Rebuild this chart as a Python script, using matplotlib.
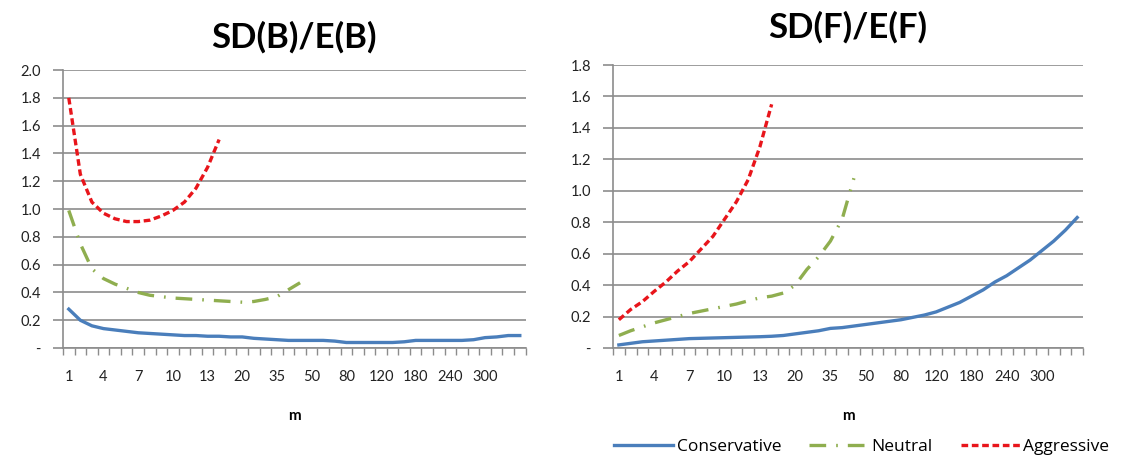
import numpy as np
import matplotlib
matplotlib.use("Agg")
import matplotlib.pyplot as plt
from matplotlib.ticker import FuncFormatter

plt.rcParams['font.family'] = ['Lato', 'DejaVu Sans']

# holding periods m (category axis)
m = list(range(1, 16)) + [20, 25, 30, 35, 40, 45, 50, 60, 70, 80, 90, 100,
                          120, 140, 160, 180, 200, 220, 240, 260, 280, 300,
                          320, 340, 360]

# SD(B)/E(B)
b_cons = [0.28, 0.20, 0.16, 0.14, 0.13, 0.12, 0.11, 0.105, 0.10, 0.095,
          0.09, 0.09, 0.085, 0.085, 0.08, 0.08, 0.07, 0.065, 0.06, 0.055,
          0.055, 0.055, 0.055, 0.05, 0.04, 0.04, 0.04, 0.04, 0.04, 0.045,
          0.055, 0.055, 0.055, 0.055, 0.055, 0.06, 0.075, 0.08, 0.09, 0.09]
b_neut = [0.99, 0.75, 0.57, 0.50, 0.46, 0.43, 0.40, 0.38, 0.37, 0.36,
          0.355, 0.35, 0.345, 0.34, 0.335, 0.33, 0.335, 0.35, 0.37, 0.42,
          0.47]
b_aggr = [1.80, 1.25, 1.05, 0.97, 0.93, 0.91, 0.91, 0.92, 0.95, 0.99,
          1.05, 1.15, 1.30, 1.50]

# SD(F)/E(F)
f_cons = [0.02, 0.03, 0.04, 0.045, 0.05, 0.055, 0.06, 0.062, 0.064, 0.066,
          0.068, 0.07, 0.072, 0.075, 0.08, 0.09, 0.10, 0.11, 0.125, 0.13,
          0.14, 0.15, 0.16, 0.17, 0.18, 0.195, 0.21, 0.23, 0.26, 0.29,
          0.33, 0.37, 0.42, 0.46, 0.51, 0.56, 0.62, 0.68, 0.75, 0.83]
f_neut = [0.08, 0.11, 0.135, 0.16, 0.18, 0.20, 0.22, 0.235, 0.25, 0.265,
          0.28, 0.30, 0.32, 0.33, 0.35, 0.40, 0.50, 0.58, 0.68, 0.82, 1.08]
f_aggr = [0.18, 0.245, 0.295, 0.36, 0.42, 0.49, 0.55, 0.63, 0.71, 0.82,
          0.93, 1.07, 1.28, 1.55]

names = ['Conservative', 'Neutral', 'Aggressive']
blue = '#4a7ebb'
green = '#8fae4f'
red = '#e8151b'
styles = [dict(color=blue, lw=2.4, ls='-'),
          dict(color=green, lw=2.4, ls=(0, (5, 3, 0.5, 3))),
          dict(color=red, lw=2.4, ls=(0, (2.0, 1.1)))]

fig = plt.figure(figsize=(11.31, 4.61), dpi=100)
ax1 = fig.add_axes([0.0557, 0.245, 0.409, 0.603])
ax2 = fig.add_axes([0.542, 0.245, 0.4156, 0.614])


def fmt(v, pos):
    if abs(v) < 1e-9:
        return '-'
    return '%.1f' % v


def setup(ax, title, ymax, series, tpad):
    for s, st, nm in zip(series, styles, names):
        ax.plot(np.arange(len(s)), s, label=nm, **st)
    ax.set_xlim(-0.5, len(m) - 0.5)
    ax.set_ylim(0, ymax)
    ax.set_yticks(np.arange(0, ymax + 0.01, 0.2))
    ax.yaxis.set_major_formatter(FuncFormatter(fmt))
    ax.grid(axis='y', color='#8c8c8c', lw=1.2)
    ax.set_axisbelow(True)
    idx = list(range(0, 37, 3))
    ax.set_xticks(idx)
    ax.set_xticklabels([str(m[i]) for i in idx])
    ax.set_xticks(np.arange(-0.5, len(m), 1), minor=True)
    ax.tick_params(axis='x', which='major', length=0, pad=16, labelsize=10.5,
                   colors='#222222')
    ax.tick_params(axis='x', which='minor', length=5, color='#8c8c8c',
                   width=1)
    ax.tick_params(axis='y', length=7, color='#8c8c8c', width=1.2,
                   labelsize=10.5, colors='#222222', pad=9)
    for sp in ['top', 'right']:
        ax.spines[sp].set_visible(False)
    for sp in ['left', 'bottom']:
        ax.spines[sp].set_color('#8c8c8c')
        ax.spines[sp].set_linewidth(1.2)
    ax.set_xlabel('m', fontsize=11, fontweight='bold', labelpad=18)
    ax.set_title(title, fontsize=25, fontweight='bold', pad=tpad)


setup(ax1, 'SD(B)/E(B)', 2.0, [b_cons, b_neut, b_aggr], 16)
setup(ax2, 'SD(F)/E(F)', 1.8, [f_cons, f_neut, f_aggr], 20)

h, l = ax2.get_legend_handles_labels()
fig.legend(h, l, loc='center', bbox_to_anchor=(0.762, 0.03), ncol=3,
           frameon=False, prop={'family': ['Open Sans', 'DejaVu Sans'],
                                'size': 12.5},
           handlelength=3.4, columnspacing=1.6, handletextpad=0.2)

fig.savefig('out.png', dpi=100)
